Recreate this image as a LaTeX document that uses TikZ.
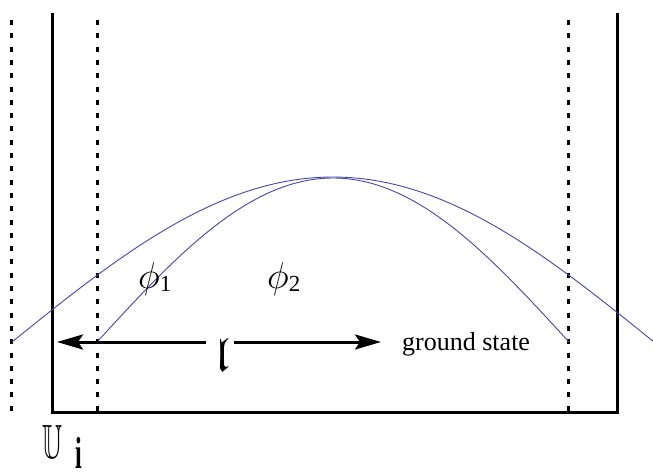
\documentclass[tikz,border=0pt]{standalone}
\usepackage{fontspec}
\setmainfont{Liberation Serif}
\usepackage{amssymb}
\usepackage{graphicx}
\usetikzlibrary{arrows.meta}
\definecolor{curveblue}{RGB}{70,70,170}
\tikzset{
  wall/.style={line width=3pt, line join=miter},
  dotwall/.style={line width=3pt, dash pattern=on 5pt off 8.3pt},
  wave/.style={curveblue, line width=0.9pt},
  span/.style={line width=3pt, -{Stealth[length=26pt, width=15pt, inset=5pt]}},
  lab/.style={inner sep=0pt, anchor=base west}
}
\newcommand{\phisym}[1]{{\fontsize{24}{28}\selectfont\scalebox{1.5}{$\phi$}\raisebox{-3pt}{\fontsize{23}{25}\selectfont #1}}}
\begin{document}
\begin{tikzpicture}[x=1pt,y=-1pt]
\useasboundingbox (0,0) rectangle (653,472);
% walls
\coordinate (wlt) at (52,13);
\coordinate (wlb) at (52,412);
\coordinate (wrb) at (617,412);
\coordinate (wrt) at (617,13);
\draw[wall] (wlt) -- (wlb) -- (wrb) -- (wrt);
% dotted lines
\coordinate (d1t) at (11,20);  \coordinate (d1b) at (11,412);
\coordinate (d2t) at (97,20);  \coordinate (d2b) at (97,412);
\coordinate (d3t) at (568,20); \coordinate (d3b) at (568,412);
\draw[dotwall] (d1t) -- (d1b);
\draw[dotwall] (d2t) -- (d2b);
\draw[dotwall] (d3t) -- (d3b);
% wave functions
\draw[wave] plot[domain=12:653, samples=120] (\x, {342-165*cos((\x-333)/321*90)});
\draw[wave] plot[domain=97:569, samples=120] (\x, {342-164*cos((\x-333)/236*90)});
% arrow with label
\node[inner sep=0pt] (ell) at (222,355) {\fontsize{24}{28}\selectfont\scalebox{2}{$\mathfrak{l}$}};
\coordinate (al0) at (206,342);
\coordinate (al1) at (57,342);
\coordinate (ar0) at (234,342);
\coordinate (ar1) at (381,342);
\draw[span] (al0) -- (al1);
\draw[span] (ar0) -- (ar1);
% labels
\node[lab] (gs) at (402,350) {\fontsize{26}{30}\selectfont ground state};
\node[lab] (phi1) at (138,288) {\phisym{1}};
\node[lab] (phi2) at (267,288) {\phisym{2}};
\node[lab] (U) at (42,458) {\fontsize{24}{28}\selectfont\scalebox{1.15}[2.0]{$\mathbb{U}$}\hspace{13pt}\raisebox{-10pt}{\scalebox{0.8}[1.5]{\fontsize{30}{32}\selectfont\textbf{i}}}};
\end{tikzpicture}
\end{document}
